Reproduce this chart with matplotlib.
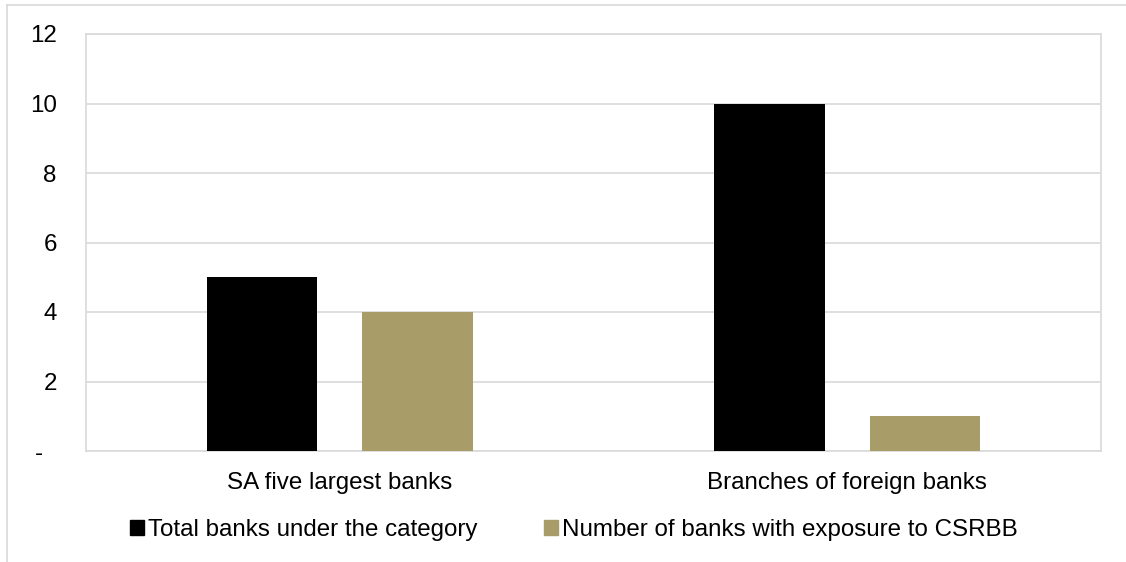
import matplotlib.pyplot as plt
from matplotlib.lines import Line2D
from matplotlib.patches import Patch
import numpy as np

plt.rcParams['font.family'] = ['Liberation Sans', 'DejaVu Sans']

# Bank categories and counts
categories = ['SA five largest banks', 'Branches of foreign banks']
total_banks = [5, 10]
exposed_banks = [4, 1]
series_names = ['Total banks under the category', 'Number of banks with exposure to CSRBB']
colors = ['#000000', '#a89c68']
yticks = [0, 2, 4, 6, 8, 10, 12]
ytick_labels = ['-  ', '2', '4', '6', '8', '10', '12']

fs = 17.4

fig = plt.figure(figsize=(11.26, 5.62), dpi=100)
ax = fig.add_axes([86 / 1126, 111 / 562, 1015 / 1126, 417 / 562])

x = np.arange(len(categories))
width = 0.218
offset = 0.153
ax.bar(x - offset, total_banks, width, color=colors[0], zorder=3)
ax.bar(x + offset, exposed_banks, width, color=colors[1], zorder=3)

ax.set_xlim(-0.5, 1.5)
ax.set_ylim(0, 12)
ax.set_xticks(x)
ax.set_xticklabels(categories, fontsize=fs)
ax.set_yticks(yticks)
ax.set_yticklabels(ytick_labels, fontsize=fs)
ax.tick_params(length=0)
ax.tick_params(axis='x', pad=15)
ax.tick_params(axis='y', pad=21)
ax.grid(axis='y', color='#d9d9d9', linewidth=1.2, zorder=0)
for s in ax.spines.values():
    s.set_color('#d9d9d9')
    s.set_linewidth(1.2)

# outer chart frame (top and left edges)
fig.add_artist(Line2D([7 / 1126, 1.0], [1 - 5 / 562] * 2, color='#d9d9d9', lw=1.2))
fig.add_artist(Line2D([7 / 1126] * 2, [0.0, 1 - 5 / 562], color='#d9d9d9', lw=1.2))

handles = [Patch(color=c) for c in colors]
fig.legend(handles, series_names, loc='center', ncol=2, frameon=False,
           bbox_to_anchor=(0.51, 1 - 530 / 562), fontsize=fs,
           handlelength=0.55, handleheight=0.55, handletextpad=0.2,
           columnspacing=2.75, borderpad=0)

fig.savefig('out.png', dpi=100)
